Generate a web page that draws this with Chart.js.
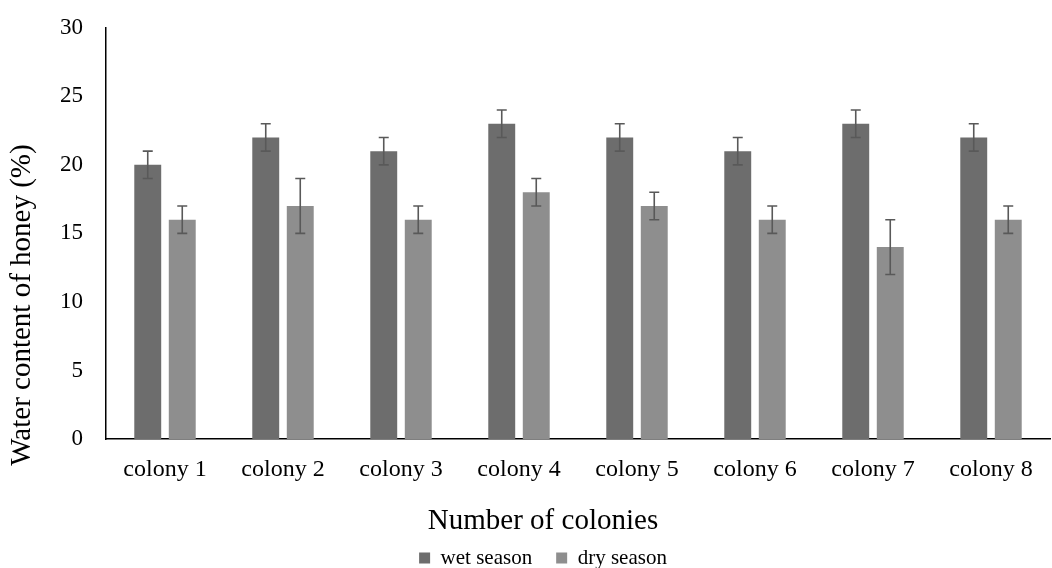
<!DOCTYPE html>
<html>
<head>
<meta charset="utf-8">
<script src="https://cdn.jsdelivr.net/npm/chart.js@4.4.1/dist/chart.umd.min.js"></script>
<style>
  html, body { margin: 0; padding: 0; background: #fff; }
  #wrap { width: 1052px; height: 568px; }
</style>
</head>
<body>
<div id="wrap"><canvas id="chart"></canvas></div>
<script>
// data
const colonies = ['colony 1', 'colony 2', 'colony 3', 'colony 4', 'colony 5', 'colony 6', 'colony 7', 'colony 8'];
const wetSeason = [20, 22, 21, 23, 22, 21, 23, 22];
const wetError = [1, 1, 1, 1, 1, 1, 1, 1];
const drySeason = [16, 17, 16, 18, 17, 16, 14, 16];
const dryError = [1, 2, 1, 1, 1, 1, 2, 1];
const yTicks = [0, 5, 10, 15, 20, 25, 30];

const serif = "'Liberation Serif', 'DejaVu Serif', serif";

// draws the +/- error bars from the y scale
const errorBars = {
    id: 'errorBars',
    afterDatasetsDraw(chart) {
        const ctx = chart.ctx;
        const yScale = chart.scales.y;
        ctx.save();
        ctx.strokeStyle = '#595959';
        ctx.lineWidth = 1.6;
        chart.data.datasets.forEach((ds, i) => {
            const meta = chart.getDatasetMeta(i);
            meta.data.forEach((bar, j) => {
                const v = ds.data[j];
                const e = ds.errors[j];
                const top = yScale.getPixelForValue(v + e);
                const bot = yScale.getPixelForValue(v - e);
                const x = bar.x;
                ctx.beginPath();
                ctx.moveTo(x, top); ctx.lineTo(x, bot);
                ctx.moveTo(x - 5, top); ctx.lineTo(x + 5, top);
                ctx.moveTo(x - 5, bot); ctx.lineTo(x + 5, bot);
                ctx.stroke();
            });
        });
        ctx.restore();
    }
};

// y axis title, placed like the original (a bit below the axis middle)
const yTitle = {
    id: 'yTitle',
    afterDraw(chart) {
        const ctx = chart.ctx;
        const area = chart.chartArea;
        ctx.save();
        ctx.translate(22, area.bottom - 134);
        ctx.rotate(-Math.PI / 2);
        ctx.font = '29px ' + serif;
        ctx.fillStyle = '#000';
        ctx.textAlign = 'center';
        ctx.textBaseline = 'middle';
        ctx.fillText('Water content of honey (%)', 0, 0);
        ctx.restore();
    }
};

new Chart(document.getElementById('chart'), {
    type: 'bar',
    data: {
        labels: colonies,
        datasets: [
            { label: 'wet season', data: wetSeason, errors: wetError, backgroundColor: '#6d6d6d' },
            { label: 'dry season', data: drySeason, errors: dryError, backgroundColor: '#8e8e8e' }
        ]
    },
    options: {
        responsive: true,
        maintainAspectRatio: false,
        animation: false,
        categoryPercentage: 0.585,
        barPercentage: 0.78,
        layout: { padding: { left: 36, right: 2, top: 12, bottom: -10.6 } },
        scales: {
            x: {
                grid: { display: false, drawTicks: false },
                border: { color: '#000', width: 1.5 },
                ticks: { color: '#000', font: { family: serif, size: 24 }, padding: 16 }
            },
            y: {
                min: 0,
                max: 30,
                afterFit: s => { s.width = 70; },
                afterBuildTicks: s => { s.ticks = yTicks.map(v => ({ value: v })); },
                grid: { display: false, drawTicks: true, tickLength: 9 },
                border: { color: '#000', width: 1.5 },
                ticks: { color: '#000', font: { family: serif, size: 23 }, padding: 14 }
            }
        },
        plugins: {
            legend: {
                position: 'bottom',
                labels: {
                    color: '#000',
                    font: { family: serif, size: 21 },
                    boxWidth: 11,
                    boxHeight: 11,
                    padding: 24
                }
            },
            title: {
                display: true,
                position: 'bottom',
                weight: 500,
                text: 'Number of colonies',
                color: '#000',
                font: { family: serif, size: 29, weight: 'normal' },
                padding: { top: 4, bottom: -15 }
            },
            tooltip: { enabled: false }
        }
    },
    plugins: [errorBars, yTitle]
});
</script>
</body>
</html>
